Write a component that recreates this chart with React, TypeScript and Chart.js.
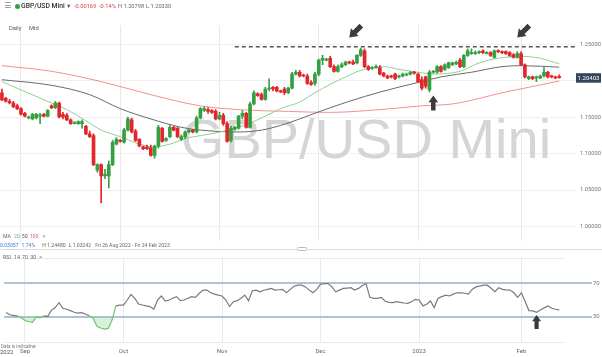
import React, { useEffect, useRef } from "react";
import { Chart, registerables } from "chart.js";

Chart.register(...registerables);

const FONT = "Roboto, 'Liberation Sans', 'DejaVu Sans', sans-serif";
Chart.defaults.font.family = FONT;

// ---------- categories ----------
const SLOTS = 148;
const MONTHS = ["Jan", "Feb", "Mar", "Apr", "May", "Jun", "Jul", "Aug", "Sep", "Oct", "Nov", "Dec"];
const FIRST_SESSION = [2022, 7, 26];

// ---------- OHLC (GBP/USD Mini, daily) ----------
const open = [
  1.1834, 1.1757, 1.1718, 1.1693, 1.1654, 1.1616, 1.1552, 1.1488, 1.1475, 1.1488,
  1.1514, 1.1539, 1.1514, 1.1654, 1.1629, 1.1693, 1.1539, 1.1526, 1.1462, 1.1411,
  1.1411, 1.1411, 1.1373, 1.127, 1.1245, 1.0771, 1.0848, 1.0694, 1.0694, 1.0848,
  1.113, 1.1181, 1.1155, 1.1322, 1.1462, 1.1309, 1.1194, 1.1091, 1.1091, 1.1078,
  1.0976, 1.1104, 1.1347, 1.1181, 1.1232, 1.136, 1.1347, 1.1194, 1.1232, 1.1296,
  1.1322, 1.1296, 1.1488, 1.159, 1.1603, 1.159, 1.1578, 1.1475, 1.1526, 1.1411,
  1.1181, 1.1334, 1.1347, 1.1514, 1.1552, 1.136, 1.168, 1.1821, 1.1808, 1.1744,
  1.1885, 1.191, 1.191, 1.1859, 1.1885, 1.1834, 1.1898, 1.209, 1.2115, 1.2077,
  1.2064, 1.1974, 1.1962, 1.209, 1.2282, 1.2282, 1.2307, 1.2192, 1.2128, 1.2192,
  1.2218, 1.2256, 1.2256, 1.2243, 1.2346, 1.241, 1.2192, 1.2166, 1.2179, 1.2179,
  1.2102, 1.2064, 1.2064, 1.209, 1.2051, 1.2064, 1.2077, 1.209, 1.2115, 1.209,
  1.2013, 1.2051, 1.1872, 1.2115, 1.2115, 1.2192, 1.2154, 1.2179, 1.2218, 1.223,
  1.2282, 1.2192, 1.2346, 1.2371, 1.2371, 1.2384, 1.241, 1.2371, 1.2384, 1.232,
  1.241, 1.2397, 1.2397, 1.2384, 1.2358, 1.232, 1.2371, 1.2218, 1.2026, 1.2051,
  1.2038, 1.2038, 1.2064, 1.2115, 1.2064, 1.2051, 1.20572,
];
const close = [
  1.1735, 1.1718, 1.1693, 1.1642, 1.1616, 1.1539, 1.1514, 1.1501, 1.1539, 1.1539,
  1.1526, 1.1514, 1.159, 1.1629, 1.1693, 1.1501, 1.1501, 1.1462, 1.1411, 1.1424,
  1.1437, 1.1437, 1.127, 1.1232, 1.0848, 1.0848, 1.0694, 1.072, 1.0848, 1.1155,
  1.1194, 1.1168, 1.1322, 1.1475, 1.1296, 1.1181, 1.1104, 1.1066, 1.1066, 1.0976,
  1.1104, 1.136, 1.1168, 1.1206, 1.136, 1.1322, 1.1232, 1.1232, 1.1296, 1.1322,
  1.1296, 1.1488, 1.1616, 1.1616, 1.1578, 1.1565, 1.1475, 1.1526, 1.1411, 1.1168,
  1.1347, 1.136, 1.1514, 1.1552, 1.136, 1.168, 1.1834, 1.1795, 1.1744, 1.1885,
  1.1898, 1.1885, 1.1859, 1.1846, 1.1834, 1.1898, 1.209, 1.2115, 1.2064, 1.2064,
  1.1962, 1.1949, 1.209, 1.2282, 1.2307, 1.2294, 1.2192, 1.2128, 1.2192, 1.2218,
  1.2256, 1.2243, 1.223, 1.2346, 1.2422, 1.2192, 1.2154, 1.2179, 1.2192, 1.209,
  1.2064, 1.2038, 1.2051, 1.2026, 1.2064, 1.209, 1.209, 1.2115, 1.2102, 1.1987,
  1.1898, 1.1923, 1.2115, 1.2128, 1.2192, 1.2128, 1.2218, 1.2243, 1.2243, 1.225,
  1.2192, 1.2346, 1.241, 1.2384, 1.2384, 1.2397, 1.2384, 1.2384, 1.2346, 1.241,
  1.2397, 1.2384, 1.2371, 1.2346, 1.232, 1.2371, 1.2218, 1.2051, 1.2051, 1.2026,
  1.2051, 1.2064, 1.2115, 1.2051, 1.2051, 1.2038, 1.20403,
];
const high = [
  1.1885, 1.177, 1.1744, 1.1718, 1.168, 1.1629, 1.1565, 1.1514, 1.1552, 1.1552,
  1.1552, 1.1552, 1.1603, 1.1667, 1.1718, 1.1706, 1.1565, 1.1552, 1.1475, 1.1437,
  1.145, 1.1462, 1.1386, 1.1309, 1.127, 1.0861, 1.0861, 1.0784, 1.0899, 1.1181,
  1.1219, 1.1194, 1.1347, 1.1501, 1.1488, 1.1334, 1.1206, 1.1104, 1.1117, 1.1117,
  1.1117, 1.1386, 1.136, 1.1219, 1.1386, 1.1373, 1.136, 1.1258, 1.1309, 1.1334,
  1.1334, 1.1514, 1.1629, 1.1642, 1.1629, 1.1603, 1.1603, 1.1565, 1.1552, 1.1437,
  1.1373, 1.1373, 1.1526, 1.159, 1.1565, 1.1706, 1.1859, 1.1834, 1.1834, 1.191,
  1.2026, 1.1923, 1.1923, 1.1872, 1.191, 1.191, 1.2115, 1.2141, 1.2141, 1.209,
  1.209, 1.2, 1.2115, 1.2294, 1.2346, 1.2307, 1.2333, 1.2218, 1.2218, 1.2243,
  1.2269, 1.2269, 1.2282, 1.2358, 1.2448, 1.2435, 1.2205, 1.2192, 1.2218, 1.2205,
  1.2115, 1.2077, 1.2077, 1.2102, 1.2077, 1.2102, 1.2102, 1.2128, 1.2128, 1.2102,
  1.2051, 1.2064, 1.2141, 1.2141, 1.2205, 1.2205, 1.223, 1.2256, 1.2256, 1.2269,
  1.2307, 1.2358, 1.2435, 1.2435, 1.241, 1.241, 1.2422, 1.2397, 1.2397, 1.2422,
  1.2422, 1.241, 1.241, 1.2397, 1.2371, 1.2397, 1.2397, 1.223, 1.2064, 1.2064,
  1.2064, 1.2077, 1.2179, 1.2128, 1.2077, 1.2064, 1.20798,
];
const low = [
  1.1725, 1.1706, 1.168, 1.1629, 1.1603, 1.1526, 1.1501, 1.1475, 1.1462, 1.1475,
  1.1411, 1.1501, 1.1501, 1.1616, 1.1616, 1.1488, 1.1475, 1.145, 1.1398, 1.1405,
  1.1398, 1.1347, 1.1258, 1.1219, 1.0835, 1.0746, 1.03242, 1.0656, 1.0528, 1.0835,
  1.1117, 1.1155, 1.1142, 1.1309, 1.1283, 1.1168, 1.1091, 1.1053, 1.1053, 1.0963,
  1.0938, 1.1078, 1.1155, 1.1168, 1.1219, 1.1309, 1.1219, 1.1181, 1.1206, 1.1283,
  1.1283, 1.1283, 1.1475, 1.1578, 1.1552, 1.1552, 1.1462, 1.1462, 1.1386, 1.1155,
  1.1155, 1.1322, 1.1334, 1.1475, 1.1347, 1.1347, 1.1667, 1.1782, 1.1731, 1.1731,
  1.1859, 1.1859, 1.1846, 1.1834, 1.1808, 1.1821, 1.1885, 1.2077, 1.2051, 1.2051,
  1.1949, 1.1936, 1.1936, 1.2064, 1.2218, 1.2269, 1.2179, 1.2115, 1.2115, 1.2179,
  1.2205, 1.223, 1.2218, 1.223, 1.2333, 1.2179, 1.2141, 1.2154, 1.2166, 1.2077,
  1.2051, 1.2026, 1.2038, 1.2013, 1.2038, 1.2051, 1.2064, 1.2077, 1.209, 1.1974,
  1.1872, 1.1898, 1.1846, 1.2102, 1.2102, 1.2115, 1.2141, 1.2166, 1.2205, 1.2218,
  1.2179, 1.2179, 1.2333, 1.2358, 1.2358, 1.2371, 1.2371, 1.2365, 1.2333, 1.2307,
  1.2384, 1.2371, 1.2358, 1.2333, 1.2307, 1.2307, 1.2205, 1.2038, 1.2013, 1.2013,
  1.1987, 1.2026, 1.2051, 1.2038, 1.2038, 1.2026, 1.2033,
];

// ---------- moving averages (read at sample sessions) ----------
const ma20Idx = [0, 13, 17, 22, 26, 31, 36, 40, 44, 49, 52, 62, 68, 73, 78, 82, 86, 90, 94, 100, 104, 109, 113, 120, 125, 130, 136, 141, 146];
const ma20Val = [1.1987, 1.1693, 1.1603, 1.145, 1.1322, 1.1232, 1.113, 1.1091, 1.113, 1.1219, 1.1245, 1.136, 1.1488, 1.1616, 1.1706, 1.1834, 1.1949, 1.2051, 1.2141, 1.2192, 1.2154, 1.2115, 1.209, 1.2128, 1.2243, 1.2307, 1.2333, 1.2307, 1.223];
const ma50Idx = [0, 13, 23, 31, 39, 47, 52, 62, 68, 73, 78, 86, 95, 103, 110, 115, 123, 131, 136, 146];
const ma50Val = [1.2013, 1.1936, 1.1808, 1.1616, 1.1475, 1.136, 1.1322, 1.1296, 1.1322, 1.1386, 1.1475, 1.1629, 1.1782, 1.1898, 1.1987, 1.2051, 1.2115, 1.2192, 1.2205, 1.2185];
const ma100Idx = [0, 13, 26, 39, 52, 62, 75, 86, 99, 110, 118, 123, 128, 132, 137, 146];
const ma100Val = [1.2205, 1.2128, 1.1987, 1.1808, 1.1654, 1.1603, 1.1578, 1.1565, 1.1603, 1.1654, 1.168, 1.1731, 1.1795, 1.1846, 1.1898, 1.1995];

// ---------- RSI(14) ----------
const rsi = [
  52.5, 51.2, 50.8, 50.6, 49.4, 47.8, 47.2, 46.7, 50, 49.4,
  50.6, 50.2, 54, 55.5, 58.4, 55.1, 54.5, 53.7, 52.7, 52.2,
  52.5, 51.5, 50.6, 49.2, 44.3, 43.3, 42.7, 43.1, 48.2, 56.5,
  57, 57, 60, 63.3, 61, 57.6, 57, 56.5, 56.1, 54.5,
  60, 62.4, 59.4, 60, 61, 62, 59.6, 60, 61, 62,
  61.6, 64, 65.9, 65.9, 64.3, 63.5, 62.9, 62.4, 60, 56.1,
  59, 59.6, 61, 62.9, 59.6, 65.5, 65.9, 64.9, 65.8, 66.3,
  66.9, 65.9, 66.1, 66.3, 64.3, 66.3, 68.2, 68.8, 68.8, 67.8,
  65.9, 64.3, 66.3, 69.5, 69.8, 69.8, 67.8, 64.9, 65.9, 66.9,
  67.1, 67.3, 65.9, 66.9, 68.5, 69.8, 61.6, 61, 61, 61.6,
  59.4, 58.6, 58.4, 59, 58.6, 58.2, 58, 59, 60.4, 60,
  56.5, 57.5, 59.4, 55.5, 61, 62, 62.9, 62.4, 63.5, 64.3,
  64.3, 64, 63.5, 66.3, 67.8, 68.3, 68.8, 68.8, 67, 64.9,
  67.3, 66.3, 66, 65.9, 64.3, 61.6, 64.3, 59, 53.7, 53.5,
  52.7, 54.1, 55.3, 56.5, 55.1, 54.5, 54.1,
];

// ---------- levels / annotations ----------
const priceTicks = [1.0, 1.05, 1.1, 1.15, 1.2, 1.25];
const rsiTicks = [35, 50, 70, 85];
const rsiLevels = [50, 70];
const resistanceLevel = 1.2465;
const resistanceStartIdx = 61;
const mainArrows = [
  { i: 91, v: 1.259, angle: (3 * Math.PI) / 4, len: 17 },
  { i: 135, v: 1.259, angle: (3 * Math.PI) / 4, len: 17 },
  { i: 113, v: 1.1795, angle: -Math.PI / 2, len: 15 },
];
const rsiArrows = [{ i: 140, v: 51.1, angle: -Math.PI / 2, len: 14 }];

// ---------- derived helpers ----------
const sessions: Date[] = (() => {
  const out: Date[] = [];
  const d = new Date(FIRST_SESSION[0], FIRST_SESSION[1], FIRST_SESSION[2]);
  while (out.length < SLOTS) {
    if (d.getDay() !== 6) out.push(new Date(d));
    d.setDate(d.getDate() + 1);
  }
  return out;
})();
const labels = sessions.map((d) => `${d.getDate()} ${MONTHS[d.getMonth()]} ${d.getFullYear()}`);
const monthStart: Record<number, string> = {};
sessions.forEach((d, i) => {
  if (i > 0 && d.getMonth() !== sessions[i - 1].getMonth()) {
    monthStart[i] = d.getMonth() === 0 ? String(d.getFullYear()) : MONTHS[d.getMonth()];
  }
});

function sparse(idx: number[], val: number[]) {
  const a: (number | null)[] = new Array(SLOTS).fill(null);
  idx.forEach((k, j) => (a[k] = val[j]));
  return a;
}

const GREEN = "#35a042";
const RED = "#e3262c";
const candleColors = open.map((o, i) => (close[i] >= o ? GREEN : RED));

function drawArrow(ctx: CanvasRenderingContext2D, x: number, y: number, angle: number, len: number) {
  const hl = len * 0.45, hw = len * 0.64, sw = len * 0.3;
  ctx.save();
  ctx.translate(x, y);
  ctx.rotate(angle);
  ctx.beginPath();
  ctx.moveTo(0, 0);
  ctx.lineTo(-hl, -hw / 2);
  ctx.lineTo(-hl, -sw / 2);
  ctx.lineTo(-len, -sw / 2);
  ctx.lineTo(-len, sw / 2);
  ctx.lineTo(-hl, sw / 2);
  ctx.lineTo(-hl, hw / 2);
  ctx.closePath();
  ctx.fillStyle = "#3b3b3b";
  ctx.fill();
  ctx.restore();
}

const arrowsPlugin = (list: { i: number; v: number; angle: number; len: number }[]) => ({
  id: "arrows",
  afterDraw(chart: any) {
    const { ctx } = chart;
    const xs = chart.scales.x, ys = chart.scales.y;
    list.forEach((a) => drawArrow(ctx, xs.getPixelForValue(a.i), ys.getPixelForValue(a.v), a.angle, a.len));
  },
});

const watermarkPlugin = {
  id: "watermark",
  beforeDatasetsDraw(chart: any) {
    const { ctx } = chart;
    ctx.save();
    ctx.font = "56px 'Liberation Sans', Arial, sans-serif";
    ctx.fillStyle = "#d5d5d5";
    ctx.textAlign = "center";
    ctx.textBaseline = "alphabetic";
    ctx.fillText("GBP/USD Mini", 366, 140);
    ctx.restore();
  },
};

const resistancePlugin = {
  id: "resistance",
  afterDatasetsDraw(chart: any) {
    const { ctx, chartArea } = chart;
    const y = chart.scales.y.getPixelForValue(resistanceLevel);
    const x0 = chart.scales.x.getPixelForValue(resistanceStartIdx);
    ctx.save();
    ctx.strokeStyle = "#555";
    ctx.lineWidth = 1.6;
    ctx.setLineDash([4, 3]);
    ctx.beginPath();
    ctx.moveTo(x0, y);
    ctx.lineTo(chartArea.right + 10, y);
    ctx.stroke();
    ctx.restore();
  },
};

const lastPricePlugin = {
  id: "lastPrice",
  afterDraw(chart: any) {
    const { ctx } = chart;
    const last = close[close.length - 1];
    const y = chart.scales.y.getPixelForValue(last);
    ctx.save();
    ctx.fillStyle = "#33445c";
    ctx.fillRect(576, y - 4.5, 25, 9.5);
    ctx.fillStyle = "#fff";
    ctx.font = `6px ${FONT}`;
    ctx.textAlign = "center";
    ctx.textBaseline = "middle";
    ctx.fillText(last.toFixed(5), 588.5, y + 0.3);
    ctx.restore();
  },
};

const monthGrid = (c: any) => (monthStart[c.index] !== undefined ? "#e9e9e9" : "rgba(0,0,0,0)");

function T({ x, y, s, c, w, children }: any) {
  return (
    <div
      style={{
        position: "absolute",
        left: x,
        top: y - s * 0.6,
        fontSize: s,
        lineHeight: `${s * 1.2}px`,
        color: c,
        fontWeight: w ?? 400,
        whiteSpace: "nowrap",
      }}
    >
      {children}
    </div>
  );
}

function S({ c, m, children }: any) {
  return <span style={{ color: c, marginRight: m ?? 0 }}>{children}</span>;
}

export default function App() {
  const mainRef = useRef<HTMLCanvasElement>(null);
  const rsiRef = useRef<HTMLCanvasElement>(null);

  useEffect(() => {
    const main = new Chart(mainRef.current as HTMLCanvasElement, {
      type: "bar",
      data: {
        labels,
        datasets: [
          {
            type: "bar",
            label: "body",
            data: open.map((o, i) => [o, close[i]]),
            backgroundColor: candleColors,
            barThickness: 3,
            grouped: false,
            minBarLength: 1,
            order: 0,
          } as any,
          {
            type: "bar",
            label: "wick",
            data: low.map((l, i) => [l, high[i]]),
            backgroundColor: candleColors,
            barThickness: 1,
            grouped: false,
            order: 1,
          } as any,
          {
            type: "line",
            label: "MA20",
            data: sparse(ma20Idx, ma20Val),
            borderColor: "#8ed28e",
            borderWidth: 1,
            pointRadius: 0,
            spanGaps: true,
            cubicInterpolationMode: "monotone",
            order: 2,
          } as any,
          {
            type: "line",
            label: "MA50",
            data: sparse(ma50Idx, ma50Val),
            borderColor: "#6a6a6a",
            borderWidth: 1,
            pointRadius: 0,
            spanGaps: true,
            cubicInterpolationMode: "monotone",
            order: 3,
          } as any,
          {
            type: "line",
            label: "MA100",
            data: sparse(ma100Idx, ma100Val),
            borderColor: "#f29090",
            borderWidth: 1,
            pointRadius: 0,
            spanGaps: true,
            cubicInterpolationMode: "monotone",
            order: 4,
          } as any,
        ],
      },
      options: {
        animation: false,
        responsive: false,
        maintainAspectRatio: false,
        events: [],
        layout: { padding: 0 },
        plugins: { legend: { display: false }, tooltip: { enabled: false } },
        scales: {
          x: {
            offset: true,
            grid: { offset: false, color: monthGrid, drawTicks: false },
            border: { display: false },
            ticks: { display: false, autoSkip: false },
            afterFit: (a: any) => {
              a.height = 0;
            },
          },
          y: {
            position: "right",
            min: 0.98077,
            max: 1.27564,
            afterBuildTicks: (a: any) => {
              a.ticks = priceTicks.map((value) => ({ value }));
            },
            ticks: {
              callback: (v: any) => Number(v).toFixed(5),
              font: { size: 5.8 },
              color: "#777",
              padding: 4,
            },
            grid: { color: "#f0f0f0", drawTicks: true, tickLength: 11, tickColor: "#f0f0f0" },
            border: { display: false },
            afterFit: (a: any) => {
              a.width = 37;
            },
          },
        },
      } as any,
      plugins: [watermarkPlugin, resistancePlugin, lastPricePlugin, arrowsPlugin(mainArrows)],
    });

    const isLevel = (c: any) => c.tick && rsiLevels.includes(c.tick.value);
    const rsiChart = new Chart(rsiRef.current as HTMLCanvasElement, {
      type: "line",
      data: {
        labels,
        datasets: [
          {
            label: "RSI",
            data: rsi,
            borderColor: "#7a7a7a",
            borderWidth: 1.2,
            pointRadius: 0,
            tension: 0,
            fill: { target: { value: 50 }, above: "rgba(0,0,0,0)", below: "rgba(130,205,130,0.3)" },
            segment: {
              borderColor: (c: any) => (c.p0.parsed.y < 50 || c.p1.parsed.y < 50 ? "#6cc46c" : "#7a7a7a"),
            },
          } as any,
        ],
      },
      options: {
        animation: false,
        responsive: false,
        maintainAspectRatio: false,
        events: [],
        layout: { padding: { top: 10 } },
        plugins: { legend: { display: false }, tooltip: { enabled: false } },
        scales: {
          x: {
            offset: true,
            grid: { offset: false, color: monthGrid, drawTicks: false },
            border: { display: false },
            ticks: {
              autoSkip: false,
              maxRotation: 0,
              minRotation: 0,
              padding: 6,
              font: { size: 6 },
              color: "#666",
              callback: (_v: any, i: number) => monthStart[i] ?? "",
            },
            afterFit: (a: any) => {
              a.height = 15;
            },
          },
          y: {
            position: "right",
            min: 35,
            max: 85,
            afterBuildTicks: (a: any) => {
              a.ticks = rsiTicks.map((value) => ({ value }));
            },
            ticks: {
              callback: (v: any) => (rsiLevels.includes(Number(v)) ? String(v) : ""),
              font: { size: 6 },
              color: "#777",
              padding: 1,
            },
            grid: {
              color: (c: any) => (isLevel(c) ? "#b2c3d4" : "#e9e9e9"),
              lineWidth: (c: any) => (isLevel(c) ? 2 : 1),
              drawTicks: true,
              tickLength: 27,
              tickWidth: 2,
              tickColor: (c: any) => (isLevel(c) ? "#b2c3d4" : "rgba(0,0,0,0)"),
            },
            border: { display: false },
            afterFit: (a: any) => {
              a.width = 37;
            },
          },
        },
      } as any,
      plugins: [arrowsPlugin(rsiArrows)],
    });

    return () => {
      main.destroy();
      rsiChart.destroy();
    };
  }, []);

  const last = close[close.length - 1];
  const chg = last - open[open.length - 1];
  const pct = (chg / open[open.length - 1]) * 100;

  return (
    <div
      style={{
        position: "absolute",
        left: 0,
        top: 0,
        width: 602,
        height: 357,
        background: "#fff",
        overflow: "hidden",
        fontFamily: FONT,
      }}
    >
      <canvas ref={mainRef} width={602} height={230} style={{ position: "absolute", left: 0, top: 18, width: 602, height: 230 }} />
      <canvas ref={rsiRef} width={602} height={109} style={{ position: "absolute", left: 0, top: 248, width: 602, height: 109 }} />

      {/* header */}
      <T x={4} y={6} s={8} c="#888">☰</T>
      <div style={{ position: "absolute", left: 15, top: 3.5, width: 5, height: 5, borderRadius: 3, background: "#2fa33c" }} />
      <T x={21} y={6} s={6.8} c="#333" w={500}>GBP/USD Mini</T>
      <T x={66} y={6.5} s={5.5} c="#555">▼</T>
      <T x={74} y={6} s={5.7} c="#e03a3a">{chg.toFixed(5)}</T>
      <T x={99} y={6} s={5.7} c="#e03a3a">{pct.toFixed(2)}%</T>
      <T x={118} y={6} s={5.7} c="#666">H {high[high.length - 1].toFixed(5)}</T>
      <T x={146} y={6} s={5.7} c="#666">L {low[low.length - 1].toFixed(5)}</T>
      <T x={9} y={28} s={5.8} c="#555">Daily</T>
      <T x={29} y={28} s={5.8} c="#555">Mid</T>

      {/* MA legend */}
      <T x={3} y={236} s={5.2} c="#666">
        <S c="#666" m={3}>MA</S>
        <S c="#5cb85c" m={2}>20</S>
        <S c="#555" m={2}>50</S>
        <S c="#e06666" m={4}>100</S>
        <S c="#888">×</S>
      </T>
      <T x={0} y={245} s={5.1} c="#666">
        <S c="#3b7ddd" m={3}>0.03057</S>
        <S c="#3b7ddd" m={7}>1.74%</S>
        <S c="#666" m={3}>H 1.24480</S>
        <S c="#666" m={4}>L 1.03242</S>
        <S c="#666">Fri 26 Aug 2022 - Fri 24 Feb 2023</S>
      </T>

      {/* separator */}
      <div style={{ position: "absolute", left: 0, top: 249, width: 602, height: 1, background: "#dcdcdc" }} />
      <div
        style={{
          position: "absolute",
          left: 297,
          top: 247,
          width: 10,
          height: 4,
          borderRadius: 1.5,
          border: "1px solid #bbb",
          background: "#fff",
          boxSizing: "border-box",
        }}
      />

      {/* RSI legend */}
      <T x={3} y={257} s={5.4} c="#666">
        <S c="#666" m={3}>RSI</S>
        <S c="#666" m={2}>14</S>
        <S c="#666" m={2}>70</S>
        <S c="#666" m={3}>30</S>
        <S c="#888">×</S>
      </T>

      <T x={1} y={347} s={4.6} c="#777">Data is indicative</T>
      <T x={0} y={352} s={6} c="#555">2022</T>
    </div>
  );
}
